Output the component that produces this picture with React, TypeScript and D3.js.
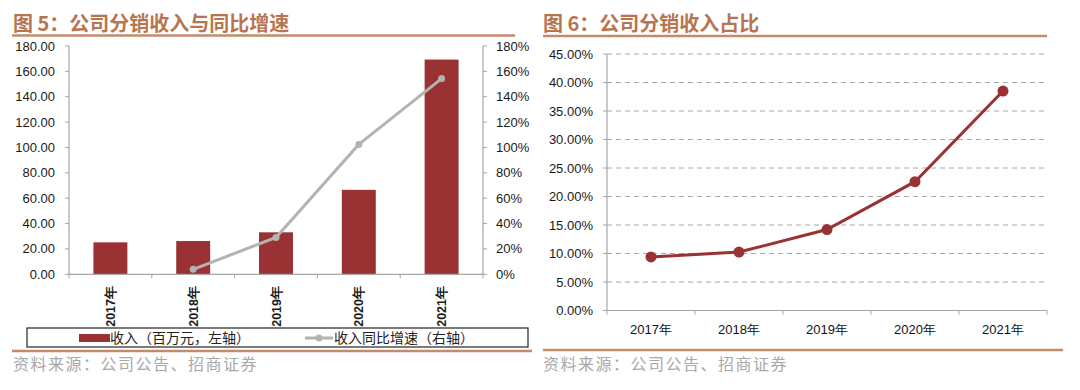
import React from 'react';
import * as d3 from 'd3';

// data
const years = ['2017年', '2018年', '2019年', '2020年', '2021年'];
const revenue = [25.2, 26.2, 33.1, 66.6, 169.3]; // 百万元
const growth = [null, 0.039, 0.291, 1.024, 1.543]; // 同比
const share = [0.094, 0.1025, 0.142, 0.226, 0.385]; // 占比

const leftTicks = d3.range(0, 181, 20);
const rightTicks = d3.range(0, 1.81, 0.2);
const shareTicks = d3.range(0, 0.451, 0.05);

const titleColor = '#b8744f';
const ruleColor = '#c48b6b';
const barColor = '#9a3132';
const lineGray = '#b3b3b3';
const axisGray = '#a6a6a6';
const numFont = '"Liberation Sans", Arial, sans-serif';
const cjkFont = '"Noto Sans CJK SC", sans-serif';

const LeftChart: React.FC = () => {
  const x = d3.scaleBand<string>().domain(years).range([69, 483]).paddingInner(0.59).paddingOuter(0.295);
  const y = d3.scaleLinear().domain([0, 180]).range([274.3, 46]);
  const y2 = d3.scaleLinear().domain([0, 1.8]).range([274.3, 46]);
  const step = x.step();
  const cx = (d: string) => (x(d) || 0) + x.bandwidth() / 2;

  const pts = years
    .map((d, i) => ({ d, v: growth[i] }))
    .filter((p) => p.v !== null) as { d: string; v: number }[];
  const line = d3
    .line<{ d: string; v: number }>()
    .x((p) => cx(p.d))
    .y((p) => y2(p.v));

  return (
    <g>
      <text x={13} y={31} fontFamily={cjkFont} fontWeight={700} fontSize={20} fill={titleColor}>
        图 5：公司分销收入与同比增速
      </text>
      <line x1={12} x2={515} y1={35.5} y2={35.5} stroke={ruleColor} strokeWidth={2.5} />

      {/* bars */}
      {years.map((d, i) => (
        <rect key={d} x={x(d)} y={y(revenue[i])} width={x.bandwidth()} height={y(0) - y(revenue[i])} fill={barColor} />
      ))}

      {/* axes */}
      <line x1={69} x2={69} y1={46} y2={y(0)} stroke={axisGray} strokeWidth={1.2} />
      <line x1={483} x2={483} y1={46} y2={y(0)} stroke={axisGray} strokeWidth={1.2} />
      <line x1={69} x2={483} y1={y(0)} y2={y(0)} stroke={axisGray} strokeWidth={1.2} />
      {leftTicks.map((t) => (
        <g key={'l' + t}>
          <line x1={65} x2={69} y1={y(t)} y2={y(t)} stroke={axisGray} />
          <text x={55} y={y(t)} dy="0.35em" textAnchor="end" fontFamily={numFont} fontSize={13} fill="#1a1a1a">
            {t.toFixed(2)}
          </text>
        </g>
      ))}
      {rightTicks.map((t) => (
        <g key={'r' + t}>
          <line x1={483} x2={487} y1={y2(t)} y2={y2(t)} stroke={axisGray} />
          <text x={496} y={y2(t)} dy="0.35em" fontFamily={numFont} fontSize={13} fill="#1a1a1a">
            {Math.round(t * 100)}%
          </text>
        </g>
      ))}
      {d3.range(0, 6).map((i) => (
        <line key={'xt' + i} x1={69 + i * step} x2={69 + i * step} y1={y(0)} y2={y(0) + 4} stroke={axisGray} />
      ))}
      {years.map((d) => (
        <text
          key={'xl' + d}
          transform={`translate(${cx(d) + 4.5},${286}) rotate(-90)`}
          textAnchor="end"
          fontFamily={numFont}
          fontWeight={700}
          fontSize={12.5}
          fill="#1a1a1a"
        >
          {d}
        </text>
      ))}

      {/* growth line */}
      <path d={line(pts) || ''} fill="none" stroke={lineGray} strokeWidth={3} />
      {pts.map((p) => (
        <circle key={'c' + p.d} cx={cx(p.d)} cy={y2(p.v)} r={3.5} fill={lineGray} />
      ))}

      {/* legend */}
      <rect x={27} y={328} width={501} height={19} fill="none" stroke="#222" strokeWidth={1.2} />
      <rect x={79} y={334} width={31} height={8} fill={barColor} />
      <text x={110} y={343} fontFamily={cjkFont} fontSize={14} fill="#222">
        收入（百万元，左轴）
      </text>
      <line x1={305} x2={333} y1={338} y2={338} stroke={lineGray} strokeWidth={3} />
      <circle cx={319} cy={338} r={3.5} fill={lineGray} />
      <text x={334} y={343} fontFamily={cjkFont} fontSize={14} fill="#222">
        收入同比增速（右轴）
      </text>

      <line x1={12} x2={532} y1={351} y2={351} stroke={ruleColor} strokeWidth={2.5} />
      <text x={13} y={370} fontFamily={cjkFont} fontSize={16} fill="#a8a8a8" letterSpacing={1.5}>
        资料来源：公司公告、招商证券
      </text>
    </g>
  );
};

const RightChart: React.FC = () => {
  const x = d3.scalePoint<string>().domain(years).range([607, 1047]).padding(0.5);
  const y = d3.scaleLinear().domain([0, 0.45]).range([310.5, 54]);
  const step = x.step();
  const line = d3
    .line<number>()
    .x((_, i) => x(years[i]) || 0)
    .y((v) => y(v));

  return (
    <g>
      <text x={543} y={31} fontFamily={cjkFont} fontWeight={700} fontSize={20} fill={titleColor}>
        图 6：公司分销收入占比
      </text>
      <line x1={543} x2={1047} y1={36} y2={36} stroke={ruleColor} strokeWidth={2.5} />

      {shareTicks.map((t) => (
        <g key={'g' + t}>
          {t > 0 && (
            <line x1={607} x2={1047} y1={y(t)} y2={y(t)} stroke="#a8a8a8" strokeWidth={1} strokeDasharray="5,4" />
          )}
          <line x1={603} x2={607} y1={y(t)} y2={y(t)} stroke={axisGray} />
          <text x={593} y={y(t)} dy="0.35em" textAnchor="end" fontFamily={numFont} fontSize={13} fill="#1a1a1a">
            {(t * 100).toFixed(2)}%
          </text>
        </g>
      ))}
      <line x1={607} x2={607} y1={54} y2={y(0)} stroke={axisGray} strokeWidth={1.2} />
      <line x1={607} x2={1047} y1={y(0)} y2={y(0)} stroke={axisGray} strokeWidth={1.2} />
      {d3.range(0, 6).map((i) => (
        <line key={'xt' + i} x1={607 + i * step} x2={607 + i * step} y1={y(0)} y2={y(0) + 4} stroke={axisGray} />
      ))}
      {years.map((d) => (
        <text key={'xl' + d} x={x(d)} y={334} textAnchor="middle" fontFamily={numFont} fontSize={13} fill="#111">
          {d}
        </text>
      ))}

      <path d={line(share) || ''} fill="none" stroke={barColor} strokeWidth={3} />
      {share.map((v, i) => (
        <circle key={'p' + i} cx={x(years[i])} cy={y(v)} r={5.5} fill={barColor} />
      ))}

      <line x1={543} x2={1063} y1={350} y2={350} stroke={ruleColor} strokeWidth={2.5} />
      <text x={543} y={370} fontFamily={cjkFont} fontSize={16} fill="#a8a8a8" letterSpacing={1.5}>
        资料来源：公司公告、招商证券
      </text>
    </g>
  );
};

const App: React.FC = () => {
  return (
    <svg
      width={1080}
      height={390}
      style={{ position: 'absolute', left: 0, top: 0, background: '#fff' }}
    >
      <rect width={1080} height={390} fill="#fff" />
      <LeftChart />
      <RightChart />
    </svg>
  );
};

export default App;
